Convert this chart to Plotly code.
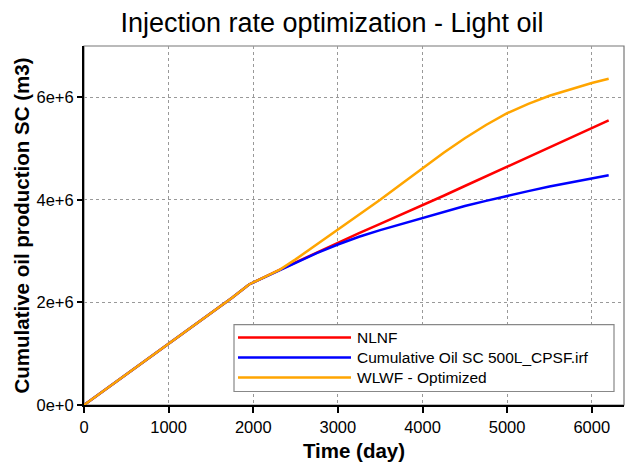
import plotly.graph_objects as go

# ---- data ----
days_common = [0, 250, 500, 750, 1000, 1250, 1500, 1750, 1950, 2150, 2316]
oil_common = [0.0, 0.30e6, 0.60e6, 0.895e6, 1.19e6, 1.49e6, 1.79e6, 2.09e6, 2.35e6,
              2.50e6, 2.64e6]

days_late = [2500, 2750, 3000, 3250, 3500, 3750, 4000, 4250, 4500, 4750, 5000,
             5250, 5500, 5750, 6000, 6200]
nlnf_late = [2.78e6, 2.97e6, 3.17e6, 3.35e6, 3.53e6, 3.71e6, 3.90e6, 4.08e6, 4.27e6,
             4.46e6, 4.65e6, 4.84e6, 5.03e6, 5.22e6, 5.40e6, 5.55e6]
cum500_late = [2.77e6, 2.96e6, 3.13e6, 3.28e6, 3.41e6, 3.53e6, 3.65e6, 3.77e6, 3.88e6,
               3.98e6, 4.08e6, 4.17e6, 4.26e6, 4.34e6, 4.42e6, 4.48e6]
wlwf_late = [2.84e6, 3.13e6, 3.42e6, 3.71e6, 4.00e6, 4.31e6, 4.62e6, 4.92e6, 5.20e6,
             5.46e6, 5.69e6, 5.87e6, 6.03e6, 6.16e6, 6.28e6, 6.36e6]

series_names = ["NLNF", "Cumulative Oil SC 500L_CPSF.irf", "WLWF - Optimized"]
series_colors = ["#ff0000", "#0000ff", "#ffa500"]
series_late = [nlnf_late, cum500_late, wlwf_late]

y_tickvals = [0, 2e6, 4e6, 6e6]
y_ticktext = ["0e+0", "2e+6", "4e+6", "6e+6"]
x_tickvals = [0, 1000, 2000, 3000, 4000, 5000, 6000]

FONT = "Liberation Sans, Arial, sans-serif"

fig = go.Figure()
for name, color, late in zip(series_names, series_colors, series_late):
    fig.add_trace(go.Scatter(
        x=days_common + days_late, y=oil_common + late, mode="lines", name=name,
        line=dict(color=color, width=2.5), showlegend=False))

# manual legend (box, sample lines, labels) in paper coords
L, R, T, B = 84, 624, 46, 405.5
def px(x):
    return (x - L) / (R - L)
def py(y):
    return (B - y) / (B - T)

shapes = [
    dict(type="rect", xref="paper", yref="paper", x0=0, x1=1, y0=0, y1=1,
         line=dict(color="#777777", width=1.2), layer="below"),
    dict(type="rect", xref="paper", yref="paper", x0=px(234), x1=px(614),
         y0=py(392), y1=py(325), line=dict(color="#888888", width=1.2),
         fillcolor="white", layer="above"),
]
annotations = []
for i, (name, color) in enumerate(zip(series_names, series_colors)):
    yy = 338 + 20 * i
    shapes.append(dict(type="line", xref="paper", yref="paper", x0=px(238), x1=px(351),
                       y0=py(yy), y1=py(yy), line=dict(color=color, width=2.5),
                       layer="above"))
    annotations.append(dict(xref="paper", yref="paper", x=px(355), y=py(yy),
                            text=name, showarrow=False, xanchor="left",
                            yanchor="middle", font=dict(family=FONT, size=15.5,
                                                        color="black")))

fig.update_layout(
    width=625, height=465,
    margin=dict(l=L, r=625 - R, t=T, b=465 - B),
    paper_bgcolor="white", plot_bgcolor="white",
    font=dict(family=FONT, color="black"),
    title=dict(text="Injection rate optimization - Light oil",
               x=332 / 625, xanchor="center", y=1 - 23 / 465, yanchor="middle",
               font=dict(family=FONT, size=27, color="black")),
    shapes=shapes, annotations=annotations,
    xaxis=dict(range=[0, 6381], tickvals=x_tickvals, showgrid=True,
               gridcolor="#999999", griddash="dot", gridwidth=1,
               showline=True, linecolor="black", linewidth=2,
               ticks="outside", ticklen=6, tickcolor="black", tickwidth=2,
               zeroline=False, tickfont=dict(size=16.5),
               title=dict(text="<b>Time (day)</b>", font=dict(size=20.5), standoff=9)),
    yaxis=dict(range=[0, 7e6], tickvals=y_tickvals, ticktext=y_ticktext,
               showgrid=True, gridcolor="#999999", griddash="dot", gridwidth=1,
               showline=True, linecolor="black", linewidth=2,
               ticks="outside", ticklen=5, tickcolor="black", tickwidth=2,
               zeroline=False, tickfont=dict(size=16.5),
               title=dict(text="<b>Cumulative oil production SC (m3)</b>",
                          font=dict(size=20.5), standoff=1)),
)

fig.write_html("out.html")
